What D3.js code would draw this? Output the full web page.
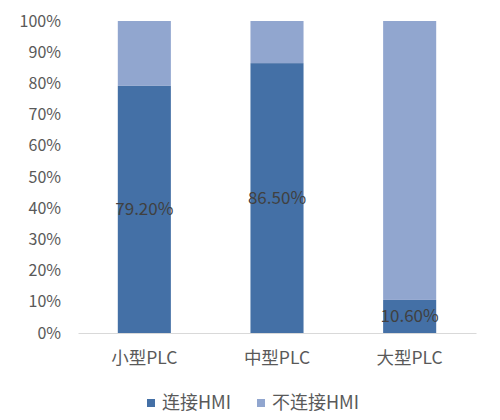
<!DOCTYPE html>
<html><head><meta charset="utf-8">
<script src="https://cdn.jsdelivr.net/npm/d3@7"></script>
<style>body{margin:0;background:#fff;}svg{display:block;}</style>
</head><body>
<svg id="c" width="500" height="420"></svg>
<script>
const categories = ["小型PLC", "中型PLC", "大型PLC"];
const connected = [79.2, 86.5, 10.6];
const notConnected = [20.8, 13.5, 89.4];
const seriesNames = ["连接HMI", "不连接HMI"];
const yTicks = [0,10,20,30,40,50,60,70,80,90,100];
const colors = ["#4470A6", "#91A6CF"];

const svg = d3.select("#c");
const font = "'Noto Sans CJK SC','Noto Sans',sans-serif";
const x = d3.scaleBand().domain(categories).range([78, 476]);
const y = d3.scaleLinear().domain([0, 100]).range([333, 21]);
const bw = x.bandwidth() * 0.4;

const rows = categories.map((c, i) => ({cat: c, a: connected[i], b: notConnected[i]}));
const stack = d3.stack().keys(["a", "b"])(rows);

stack.forEach((layer, li) => {
  svg.append("g").selectAll("rect").data(layer).join("rect")
    .attr("x", d => x(d.data.cat) + x.bandwidth()/2 - bw/2)
    .attr("width", bw)
    .attr("y", d => y(d[1]))
    .attr("height", d => y(d[0]) - y(d[1]))
    .attr("fill", colors[li]);
});

const xAxis = svg.append("g").attr("transform", "translate(0,333)")
  .call(d3.axisBottom(x).tickSize(0).tickPadding(19));
xAxis.select(".domain").attr("stroke", "#d9d9d9").attr("stroke-width", 1);
xAxis.selectAll("text").attr("font-family", font).attr("font-size", 17.5).attr("fill", "#595959");

const yAxis = svg.append("g").attr("transform", "translate(61,0)")
  .call(d3.axisLeft(y).tickValues(yTicks).tickSize(0).tickPadding(0).tickFormat(d => d + "%"));
yAxis.select(".domain").remove();
yAxis.selectAll("text").attr("font-family", font).attr("font-size", 16).attr("fill", "#595959");

svg.append("g").selectAll("text").data(rows).join("text")
  .attr("x", d => x(d.cat) + x.bandwidth()/2)
  .attr("y", d => y(d.a / 2))
  .attr("dy", "0.35em")
  .attr("text-anchor", "middle")
  .attr("font-family", font).attr("font-size", 17).attr("fill", "#404040")
  .text(d => d.a.toFixed(2) + "%");

const leg = svg.append("g").attr("font-family", font).attr("font-size", 18).attr("fill", "#595959");
const legX = [147, 257];
seriesNames.forEach((n, i) => {
  leg.append("rect").attr("x", legX[i]).attr("y", 399).attr("width", 8).attr("height", 8).attr("fill", colors[i]);
  leg.append("text").attr("x", legX[i] + 15).attr("y", 403).attr("dy", "0.35em").text(n);
});
</script>
</body></html>
